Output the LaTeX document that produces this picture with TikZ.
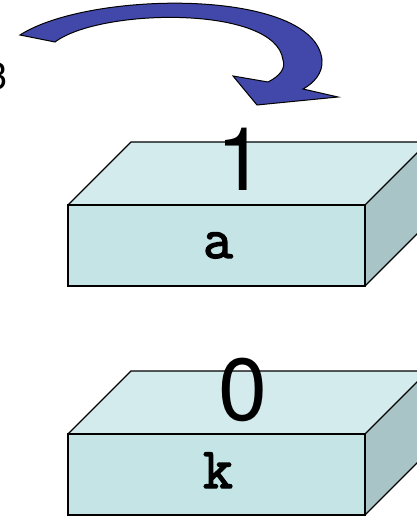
\documentclass[tikz,border=0pt]{standalone}
\usepackage{fontspec}
\newfontfamily\arialf{TeX Gyre Heros}
\newfontfamily\courb{Latin Modern Mono}[FakeBold=2.5]
\definecolor{arrowblue}{RGB}{66,72,170}
\definecolor{boxfront}{RGB}{196,228,230}
\definecolor{boxtop}{RGB}{211,235,237}
\definecolor{boxside}{RGB}{168,196,198}
\tikzset{
  facebox/.style={draw=black,line width=1.3pt,line join=miter},
  bigdigit/.style={inner sep=0pt,anchor=base,font=\arialf\fontsize{88}{88}\selectfont},
  varname/.style={inner sep=0pt,anchor=base,font=\courb\fontsize{58}{58}\selectfont},
}
\newcommand{\drawmembox}[2]{%
  \fill[boxtop] (68,#1) -- (131,#1-63) -- (428,#1-63) -- (365,#1) -- cycle;
  \fill[boxside] (365,#1) -- (428,#1-63) -- (428,#2-63) -- (365,#2) -- cycle;
  \fill[boxfront] (68,#1) rectangle (365,#2);
  \draw[facebox] (68,#1) -- (131,#1-63) -- (428,#1-63);
  \draw[facebox] (68,#1) rectangle (365,#2);
  \draw[facebox] (365,#1) -- (428,#1-63);
  \draw[facebox] (365,#2) -- (428,#2-63);
}
\begin{document}
\begin{tikzpicture}[x=1pt,y=-1pt]
\useasboundingbox (0,0) rectangle (416,518);
% curved block arrow
\draw[fill=arrowblue,line width=1pt,line join=miter]
  (20,35) .. controls (90,-10) and (315,-12) .. (322,60)
  .. controls (323,73) and (314,83) .. (303,89)
  -- (338,97) -- (257,105) -- (233,76) -- (268,82)
  .. controls (280,76) and (286,68) .. (283,60)
  .. controls (276,5) and (100,8) .. (55,42) -- cycle;
\node[inner sep=0pt,anchor=base east,font=\arialf\fontsize{38}{38}\selectfont] (three) at (8,90) {3};
% box a
\drawmembox{205}{286}
\node[bigdigit] (one) at (241,191) {1};
\node[varname] (a) at (218,258) {a};
% box k
\drawmembox{434}{515}
\node[bigdigit] (zero) at (243,420) {0};
\node[varname] (k) at (218,488) {k};
\end{tikzpicture}
\end{document}
